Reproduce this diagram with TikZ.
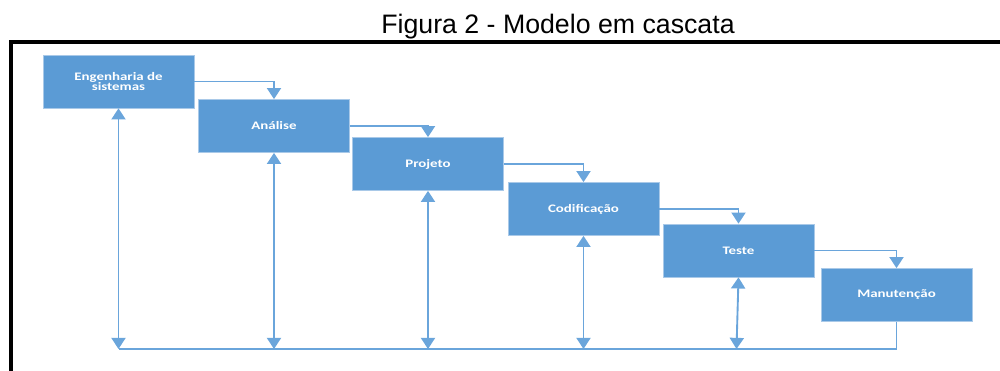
\documentclass[tikz,border=0pt]{standalone}
\usepackage{fontspec}
\usepackage{tikz}
\usetikzlibrary{arrows.meta, positioning, calc}
\setmainfont{Liberation Sans}
\newfontfamily\boxfont[FakeStretch=1.3]{Carlito}
\definecolor{officeblue}{HTML}{5B9BD5}
\definecolor{lineblue}{HTML}{6AA5DB}
\definecolor{edgeblue}{HTML}{A9C9E8}

\tikzset{
  phase/.style={draw=edgeblue, line width=0.6pt, fill=officeblue, text=white,
    minimum width=151*0.03cm, minimum height=53*0.03cm, inner sep=0pt,
    align=center, font=\boxfont\bfseries\fontsize{9.8}{8.8}\selectfont},
  flow/.style={draw=lineblue, line width=1.6pt, -{Triangle[width=12pt,length=9.5pt]}},
  feedback/.style={draw=lineblue, line width=1.6pt,
    {Triangle[width=12pt,length=9.5pt]}-{Triangle[width=12pt,length=9.5pt]}},
  baseline/.style={draw=lineblue, line width=1.6pt}
}

\begin{document}
\begin{tikzpicture}[x=0.03cm, y=-0.03cm]
\useasboundingbox (0,0) rectangle (1000,371);

% moldura
\draw[line width=2.6pt] (1000,42) -- (11,42) -- (11,371);

\node[font=\fontsize{22.8}{26}\selectfont] (title) at (558,27) {Figura 2 - Modelo em cascata};

% fases
\node[phase] (eng) at (118.5,81.5) {Engenharia de\\sistemas};
\node[phase] (ana) at (274,126) {Análise};
\node[phase] (proj) at (428,164) {Projeto};
\node[phase] (cod) at (583.5,209) {Codificação};
\node[phase] (test) at (738.5,250.5) {Teste};
\node[phase] (man) at (896.5,295) {Manutenção};

\coordinate (base) at (0,349);

% cascata
\draw[flow] (eng.east) -| (ana.north);
\draw[flow] (ana.east) -| (proj.north);
\draw[flow] (proj.east) -| (cod.north);
\draw[flow] (cod.east) -| (test.north);
\draw[flow] (test.east) -| (man.north);

% retorno
\draw[baseline] (man.south) -- (man.south |- base) -- (eng.south |- base);
\draw[feedback] (eng.south) -- (eng.south |- base);
\draw[feedback] (ana.south) -- (ana.south |- base);
\draw[feedback] (proj.south) -- (proj.south |- base);
\draw[feedback] (cod.south) -- (cod.south |- base);
\draw[feedback] (test.south) -- ($(test.south |- base)+(-2,0)$);
\end{tikzpicture}
\end{document}
